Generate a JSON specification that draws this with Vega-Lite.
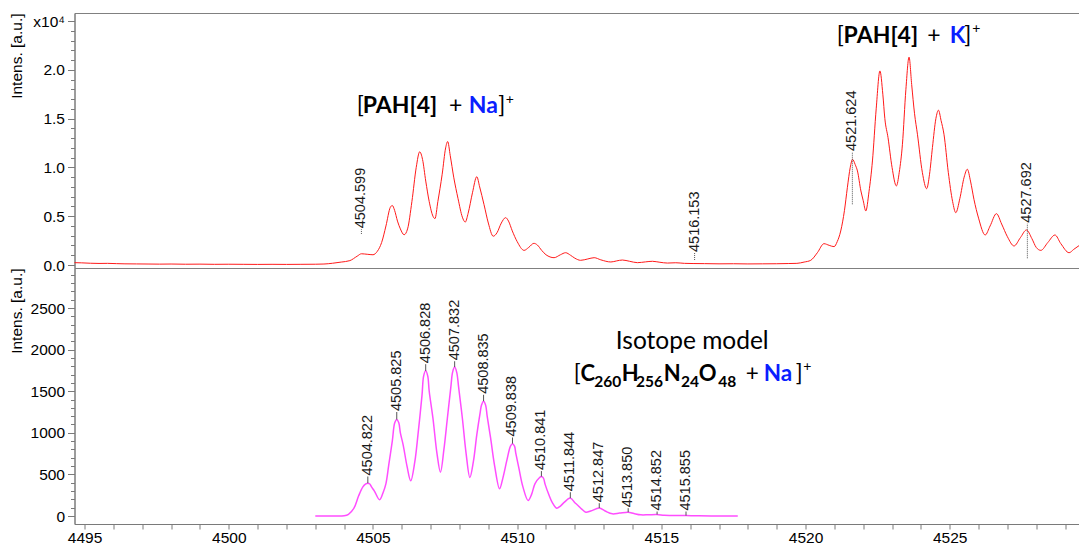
{
  "$schema": "https://vega.github.io/schema/vega-lite/v6.json",
  "autosize": {"type": "pad"},
  "padding": {"left": 8.5, "top": 12, "right": 0, "bottom": 0},
  "background": "white",
  "spacing": 0,
  "bounds": "flush",
  "config": {
    "view": {"stroke": "#808080", "strokeWidth": 1},
    "axis": {
      "domainColor": "#7a7a7a", "tickColor": "#7a7a7a", "labelColor": "#000000",
      "labelFont": "Liberation Sans", "labelFontSize": 15.5, "titleFont": "Liberation Sans",
      "titleFontSize": 15.5, "titleFontWeight": "normal", "titleColor": "#000000", "grid": false,
      "labelOverlap": false, "labelFlush": false
    }
  },
  "datasets": {
    "red": [
      {"mz":4494.65,"i":240},{"mz":4494.9,"i":220},{"mz":4495.2,"i":180},{"mz":4495.5,"i":160},{"mz":4495.8,"i":170},
      {"mz":4496.1,"i":140},{"mz":4496.4,"i":120},{"mz":4496.8,"i":110},{"mz":4497.2,"i":100},{"mz":4497.6,"i":90},
      {"mz":4498.0,"i":100},{"mz":4498.5,"i":80},{"mz":4499.0,"i":90},{"mz":4499.5,"i":70},{"mz":4500.0,"i":80},
      {"mz":4500.5,"i":70},{"mz":4501.0,"i":60},{"mz":4501.5,"i":70},{"mz":4502.0,"i":60},{"mz":4502.5,"i":70},
      {"mz":4503.0,"i":80},{"mz":4503.3,"i":100},{"mz":4503.6,"i":180},{"mz":4503.9,"i":300},{"mz":4504.2,"i":450},
      {"mz":4504.45,"i":900},{"mz":4504.6,"i":1150},{"mz":4504.8,"i":1100},{"mz":4505.0,"i":1050},{"mz":4505.15,"i":1400},
      {"mz":4505.3,"i":2300},{"mz":4505.45,"i":4000},{"mz":4505.6,"i":5900},{"mz":4505.67,"i":6100},{"mz":4505.75,"i":5600},
      {"mz":4505.85,"i":4500},{"mz":4505.95,"i":3700},{"mz":4506.08,"i":3100},{"mz":4506.2,"i":3700},{"mz":4506.35,"i":6500},
      {"mz":4506.5,"i":10000},{"mz":4506.62,"i":11600},{"mz":4506.72,"i":10800},{"mz":4506.83,"i":8600},{"mz":4506.95,"i":6500},
      {"mz":4507.08,"i":5000},{"mz":4507.15,"i":4750},{"mz":4507.25,"i":6500},{"mz":4507.4,"i":9300},{"mz":4507.52,"i":12000},
      {"mz":4507.59,"i":12650},{"mz":4507.68,"i":11200},{"mz":4507.8,"i":9000},{"mz":4507.95,"i":6800},{"mz":4508.1,"i":4900},
      {"mz":4508.2,"i":4400},{"mz":4508.3,"i":5300},{"mz":4508.45,"i":7400},{"mz":4508.6,"i":9050},{"mz":4508.7,"i":8000},
      {"mz":4508.85,"i":6200},{"mz":4509.0,"i":4300},{"mz":4509.17,"i":2950},{"mz":4509.3,"i":3300},{"mz":4509.45,"i":4300},
      {"mz":4509.6,"i":4850},{"mz":4509.7,"i":4500},{"mz":4509.83,"i":3500},{"mz":4510.0,"i":2400},{"mz":4510.24,"i":1500},
      {"mz":4510.4,"i":1800},{"mz":4510.58,"i":2220},{"mz":4510.7,"i":2050},{"mz":4510.85,"i":1500},{"mz":4511.0,"i":1050},
      {"mz":4511.28,"i":750},{"mz":4511.5,"i":1050},{"mz":4511.68,"i":1260},{"mz":4511.85,"i":1000},{"mz":4512.0,"i":700},
      {"mz":4512.2,"i":480},{"mz":4512.45,"i":620},{"mz":4512.67,"i":750},{"mz":4512.9,"i":530},{"mz":4513.25,"i":310},
      {"mz":4513.45,"i":420},{"mz":4513.65,"i":510},{"mz":4513.9,"i":380},{"mz":4514.17,"i":240},{"mz":4514.45,"i":320},
      {"mz":4514.69,"i":380},{"mz":4514.95,"i":280},{"mz":4515.21,"i":200},{"mz":4515.5,"i":230},{"mz":4515.8,"i":170},
      {"mz":4516.1,"i":150},{"mz":4516.5,"i":140},{"mz":4517.0,"i":120},{"mz":4517.5,"i":130},{"mz":4518.0,"i":110},
      {"mz":4518.5,"i":120},{"mz":4519.0,"i":130},{"mz":4519.4,"i":150},{"mz":4519.7,"i":170},{"mz":4519.95,"i":300},
      {"mz":4520.18,"i":480},{"mz":4520.41,"i":1260},{"mz":4520.64,"i":2185},{"mz":4520.82,"i":2015},{"mz":4520.99,"i":1880},
      {"mz":4521.1,"i":2400},{"mz":4521.22,"i":3485},{"mz":4521.35,"i":5600},{"mz":4521.45,"i":7920},{"mz":4521.55,"i":10000},
      {"mz":4521.63,"i":10830},{"mz":4521.72,"i":10300},{"mz":4521.8,"i":9635},{"mz":4521.92,"i":7585},{"mz":4522.0,"i":6600},
      {"mz":4522.09,"i":5535},{"mz":4522.2,"i":7500},{"mz":4522.32,"i":10660},{"mz":4522.45,"i":16000},{"mz":4522.58,"i":19885},
      {"mz":4522.68,"i":17500},{"mz":4522.75,"i":15000},{"mz":4522.86,"i":13050},{"mz":4523.0,"i":10000},{"mz":4523.15,"i":8100},
      {"mz":4523.25,"i":9500},{"mz":4523.36,"i":12370},{"mz":4523.48,"i":18000},{"mz":4523.59,"i":21300},{"mz":4523.68,"i":18500},
      {"mz":4523.78,"i":15500},{"mz":4523.88,"i":13400},{"mz":4524.05,"i":9500},{"mz":4524.2,"i":7820},{"mz":4524.3,"i":9300},
      {"mz":4524.4,"i":12030},{"mz":4524.52,"i":15000},{"mz":4524.61,"i":15860},{"mz":4524.7,"i":14800},{"mz":4524.8,"i":13400},
      {"mz":4524.95,"i":9500},{"mz":4525.1,"i":6500},{"mz":4525.21,"i":5360},{"mz":4525.35,"i":6800},{"mz":4525.5,"i":9000},
      {"mz":4525.61,"i":9810},{"mz":4525.72,"i":8600},{"mz":4525.84,"i":6730},{"mz":4526.0,"i":4800},{"mz":4526.23,"i":3075},
      {"mz":4526.4,"i":4000},{"mz":4526.62,"i":5260},{"mz":4526.8,"i":4200},{"mz":4527.0,"i":2900},{"mz":4527.23,"i":1950},
      {"mz":4527.45,"i":2800},{"mz":4527.66,"i":3590},{"mz":4527.85,"i":2700},{"mz":4528.0,"i":1800},{"mz":4528.16,"i":1500},
      {"mz":4528.4,"i":2300},{"mz":4528.65,"i":3075},{"mz":4528.85,"i":2200},{"mz":4529.14,"i":1260},{"mz":4529.3,"i":1600},
      {"mz":4529.5,"i":2020}
    ],
    "pink": [
      {"mz":4503.0,"i":0},{"mz":4503.6,"i":0},{"mz":4504.0,"i":3},{"mz":4504.15,"i":20},{"mz":4504.34,"i":94},{"mz":4504.5,"i":240},
      {"mz":4504.65,"i":350},{"mz":4504.75,"i":385},{"mz":4504.822,"i":395},{"mz":4504.89,"i":385},{"mz":4504.95,"i":350},{"mz":4505.05,"i":300},{"mz":4505.23,"i":195},
      {"mz":4505.35,"i":280},{"mz":4505.45,"i":390},{"mz":4505.55,"i":620},{"mz":4505.67,"i":900},{"mz":4505.755,"i":1120},{"mz":4505.825,"i":1160},
      {"mz":4505.895,"i":1120},{"mz":4505.95,"i":1000},{"mz":4506.05,"i":850},{"mz":4506.18,"i":600},{"mz":4506.31,"i":423},{"mz":4506.45,"i":650},
      {"mz":4506.56,"i":975},{"mz":4506.7,"i":1450},{"mz":4506.758,"i":1685},{"mz":4506.828,"i":1745},{"mz":4506.898,"i":1685},{"mz":4506.95,"i":1500},{"mz":4507.08,"i":1175},
      {"mz":4507.22,"i":750},{"mz":4507.34,"i":527},{"mz":4507.46,"i":800},{"mz":4507.58,"i":1175},{"mz":4507.7,"i":1550},{"mz":4507.762,"i":1730},
      {"mz":4507.832,"i":1790},{"mz":4507.902,"i":1730},{"mz":4507.97,"i":1550},{"mz":4508.1,"i":1175},{"mz":4508.23,"i":750},{"mz":4508.36,"i":463},
      {"mz":4508.48,"i":650},{"mz":4508.6,"i":975},{"mz":4508.72,"i":1250},{"mz":4508.765,"i":1335},{"mz":4508.835,"i":1380},{"mz":4508.905,"i":1335},{"mz":4508.96,"i":1200},
      {"mz":4509.08,"i":935},{"mz":4509.22,"i":600},{"mz":4509.39,"i":327},{"mz":4509.5,"i":450},{"mz":4509.65,"i":680},{"mz":4509.768,"i":840},
      {"mz":4509.838,"i":870},{"mz":4509.908,"i":840},{"mz":4509.95,"i":760},{"mz":4510.06,"i":575},{"mz":4510.2,"i":350},{"mz":4510.38,"i":186},
      {"mz":4510.5,"i":260},{"mz":4510.62,"i":390},{"mz":4510.771,"i":460},{"mz":4510.841,"i":475},{"mz":4510.911,"i":455},{"mz":4510.97,"i":380},{"mz":4511.1,"i":255},
      {"mz":4511.22,"i":160},{"mz":4511.37,"i":94},{"mz":4511.5,"i":120},{"mz":4511.62,"i":160},{"mz":4511.844,"i":215},
      {"mz":4512.0,"i":160},{"mz":4512.1,"i":130},{"mz":4512.25,"i":80},{"mz":4512.38,"i":46},{"mz":4512.55,"i":60},
      {"mz":4512.847,"i":95},{"mz":4513.05,"i":60},{"mz":4513.3,"i":26},{"mz":4513.55,"i":35},{"mz":4513.85,"i":46},
      {"mz":4514.05,"i":30},{"mz":4514.29,"i":14},{"mz":4514.55,"i":15},{"mz":4514.85,"i":18},{"mz":4515.1,"i":8},
      {"mz":4515.35,"i":6},{"mz":4515.855,"i":5},{"mz":4516.3,"i":2},{"mz":4517.0,"i":0},{"mz":4517.65,"i":0}
    ],
    "toplab": [
      {"t":"4504.599","mz":4504.599,"hi":3660,"lo":3180},
      {"t":"4516.153","mz":4516.153,"hi":1230,"lo":510},
      {"t":"4521.624","mz":4521.624,"hi":11580,"lo":6220},
      {"t":"4527.692","mz":4527.692,"hi":4230,"lo":690}
    ],
    "isolab": [
      {"t":"4504.822","mz":4504.822,"peak":395,"base":475},
      {"t":"4505.825","mz":4505.825,"peak":1160,"base":1250},
      {"t":"4506.828","mz":4506.828,"peak":1745,"base":1825},
      {"t":"4507.832","mz":4507.832,"peak":1790,"base":1860},
      {"t":"4508.835","mz":4508.835,"peak":1380,"base":1457},
      {"t":"4509.838","mz":4509.838,"peak":870,"base":944},
      {"t":"4510.841","mz":4510.841,"peak":475,"base":540},
      {"t":"4511.844","mz":4511.844,"peak":215,"base":286},
      {"t":"4512.847","mz":4512.847,"peak":95,"base":154},
      {"t":"4513.850","mz":4513.850,"peak":46,"base":94},
      {"t":"4514.852","mz":4514.852,"peak":18,"base":54},
      {"t":"4515.855","mz":4515.855,"peak":5,"base":54}
    ]
  },
  "vconcat": [
    {
      "width": 1005,
      "height": 255,
      "resolve": {"axis": {"y": "independent"}},
      "encoding": {
        "x": {"field": "mz", "type": "quantitative", "scale": {"domain": [4494.65, 4529.5], "nice": false, "zero": false}, "axis": null}
      },
      "layer": [
        {
          "data": {"name": "red"},
          "mark": {"type": "line", "color": "#ff1a1a", "strokeWidth": 1, "interpolate": "monotone"},
          "encoding": {
            "y": {"field": "i", "type": "quantitative", "scale": {"domain": [-307, 25820], "nice": false, "zero": false},
              "axis": {"orient": "left", "values": [0, 5000, 10000, 15000, 20000, 25000], "tickSize": 7, "labelPadding": 3,
                "labelExpr": "datum.value == 25000 ? 'x10⁴' : format(datum.value / 10000, '.1f')",
                "title": "Intens. [a.u.]", "titleAnchor": "end", "titleX": -50}}
          }
        },
        {
          "data": {"name": "toplab"},
          "mark": {"type": "rule", "color": "#555555", "strokeWidth": 1, "strokeDash": [1, 1]},
          "encoding": {
            "y": {"field": "lo", "type": "quantitative", "scale": {"domain": [-307, 25820], "nice": false, "zero": false},
              "axis": {"orient": "left", "values": [0,1000,2000,3000,4000,5000,6000,7000,8000,9000,10000,11000,12000,13000,14000,15000,16000,17000,18000,19000,20000,21000,22000,23000,24000,25000],
                "labels": false, "domain": false, "tickSize": 4, "title": null}},
            "y2": {"field": "hi"}
          }
        },
        {
          "data": {"name": "toplab"},
          "mark": {"type": "text", "angle": 270, "align": "left", "baseline": "middle", "font": "Liberation Sans", "fontSize": 14.5, "color": "#1a1a1a", "dx": 1},
          "encoding": {
            "y": {"field": "hi", "type": "quantitative", "scale": {"domain": [-307, 25820], "nice": false, "zero": false}, "axis": null},
            "text": {"field": "t"}
          }
        },
        {
          "data": {"values": [
            {"t":"[","mz":4504.435,"i":15610},{"t":"+","mz":4507.64,"i":15610},{"t":"]","mz":4509.34,"i":15610},
            {"t":"[","mz":4521.08,"i":22790},{"t":"+","mz":4524.22,"i":22790},{"t":"]","mz":4525.5,"i":22790}
          ]},
          "mark": {"type": "text", "align": "left", "baseline": "alphabetic", "font": "Lato", "fontSize": 23, "color": "#000000"},
          "encoding": {
            "y": {"field": "i", "type": "quantitative", "scale": {"domain": [-307, 25820], "nice": false, "zero": false}, "axis": null},
            "text": {"field": "t"}
          }
        },
        {
          "data": {"values": [
            {"t":"PAH[4]","mz":4504.643,"i":15610},{"t":"PAH[4]","mz":4521.32,"i":22790}
          ]},
          "mark": {"type": "text", "align": "left", "baseline": "alphabetic", "font": "Lato", "fontSize": 23, "fontWeight": "bold", "color": "#000000"},
          "encoding": {
            "y": {"field": "i", "type": "quantitative", "scale": {"domain": [-307, 25820], "nice": false, "zero": false}, "axis": null},
            "text": {"field": "t"}
          }
        },
        {
          "data": {"values": [
            {"t":"Na","mz":4508.32,"i":15610},{"t":"K","mz":4525.0,"i":22790}
          ]},
          "mark": {"type": "text", "align": "left", "baseline": "alphabetic", "font": "Lato", "fontSize": 23, "fontWeight": "bold", "color": "#0a1eff"},
          "encoding": {
            "y": {"field": "i", "type": "quantitative", "scale": {"domain": [-307, 25820], "nice": false, "zero": false}, "axis": null},
            "text": {"field": "t"}
          }
        },
        {
          "data": {"values": [
            {"t":"+","mz":4509.6,"i":16530},{"t":"+","mz":4525.78,"i":23815}
          ]},
          "mark": {"type": "text", "align": "left", "baseline": "alphabetic", "font": "Lato", "fontSize": 14, "color": "#000000"},
          "encoding": {
            "y": {"field": "i", "type": "quantitative", "scale": {"domain": [-307, 25820], "nice": false, "zero": false}, "axis": null},
            "text": {"field": "t"}
          }
        }
      ]
    },
    {
      "width": 1005,
      "height": 256,
      "resolve": {"axis": {"y": "independent"}},
      "encoding": {
        "x": {"field": "mz", "type": "quantitative", "scale": {"domain": [4494.65, 4529.5], "nice": false, "zero": false},
          "axis": {"values": [4495,4496,4497,4498,4499,4500,4501,4502,4503,4504,4505,4506,4507,4508,4509,4510,4511,4512,4513,4514,4515,4516,4517,4518,4519,4520,4521,4522,4523,4524,4525,4526,4527,4528,4529],
            "labelExpr": "datum.value % 5 === 0 ? format(datum.value, 'd') : ''", "labelOverlap": false, "tickSize": 5, "labelPadding": 1, "title": null}}
      },
      "layer": [
        {
          "data": {"name": "pink"},
          "mark": {"type": "line", "color": "#ff4dff", "strokeWidth": 1.5, "interpolate": "catmull-rom"},
          "encoding": {
            "y": {"field": "i", "type": "quantitative", "scale": {"domain": [-96, 2981], "nice": false, "zero": false},
              "axis": {"orient": "left", "values": [0, 500, 1000, 1500, 2000, 2500], "format": "d", "tickSize": 7, "labelPadding": 3, "labelOverlap": false,
                "title": "Intens. [a.u.]", "titleAnchor": "end", "titleX": -50}}
          }
        },
        {
          "data": {"name": "isolab"},
          "mark": {"type": "rule", "color": "#555555", "strokeWidth": 1},
          "encoding": {
            "y": {"field": "peak", "type": "quantitative", "scale": {"domain": [-96, 2981], "nice": false, "zero": false},
              "axis": {"orient": "left", "values": [0,100,200,300,400,500,600,700,800,900,1000,1100,1200,1300,1400,1500,1600,1700,1800,1900,2000,2100,2200,2300,2400,2500,2600,2700,2800,2900],
                "labels": false, "domain": false, "tickSize": 4, "title": null}},
            "y2": {"field": "base"}
          }
        },
        {
          "data": {"name": "isolab"},
          "mark": {"type": "text", "angle": 270, "align": "left", "baseline": "middle", "font": "Liberation Sans", "fontSize": 14.5, "color": "#1a1a1a", "dx": 1},
          "encoding": {
            "y": {"field": "base", "type": "quantitative", "scale": {"domain": [-96, 2981], "nice": false, "zero": false}, "axis": null},
            "text": {"field": "t"}
          }
        },
        {
          "data": {"values": [{"t":"Isotope model","mz":4516.07,"i":2004}]},
          "mark": {"type": "text", "align": "center", "baseline": "alphabetic", "font": "Lato", "fontSize": 24.5, "color": "#000000"},
          "encoding": {
            "y": {"field": "i", "type": "quantitative", "scale": {"domain": [-96, 2981], "nice": false, "zero": false}, "axis": null},
            "text": {"field": "t"}
          }
        },
        {
          "data": {"values": [
            {"t":"[","mz":4511.96,"i":1623},{"t":"+","mz":4517.93,"i":1623},{"t":"]","mz":4519.66,"i":1623}
          ]},
          "mark": {"type": "text", "align": "left", "baseline": "alphabetic", "font": "Lato", "fontSize": 22.5, "color": "#000000"},
          "encoding": {
            "y": {"field": "i", "type": "quantitative", "scale": {"domain": [-96, 2981], "nice": false, "zero": false}, "axis": null},
            "text": {"field": "t"}
          }
        },
        {
          "data": {"values": [
            {"t":"C","mz":4512.2,"i":1623},{"t":"H","mz":4513.63,"i":1623},{"t":"N","mz":4515.08,"i":1623},{"t":"O","mz":4516.3,"i":1623}
          ]},
          "mark": {"type": "text", "align": "left", "baseline": "alphabetic", "font": "Lato", "fontSize": 22, "fontWeight": "bold", "color": "#000000"},
          "encoding": {
            "y": {"field": "i", "type": "quantitative", "scale": {"domain": [-96, 2981], "nice": false, "zero": false}, "axis": null},
            "text": {"field": "t"}
          }
        },
        {
          "data": {"values": [
            {"t":"260","mz":4512.67,"i":1551},{"t":"256","mz":4514.12,"i":1551},{"t":"24","mz":4515.68,"i":1551},{"t":"48","mz":4516.97,"i":1551}
          ]},
          "mark": {"type": "text", "align": "left", "baseline": "alphabetic", "font": "Lato", "fontSize": 15.5, "fontWeight": "bold", "color": "#000000"},
          "encoding": {
            "y": {"field": "i", "type": "quantitative", "scale": {"domain": [-96, 2981], "nice": false, "zero": false}, "axis": null},
            "text": {"field": "t"}
          }
        },
        {
          "data": {"values": [{"t":"Na","mz":4518.55,"i":1623}]},
          "mark": {"type": "text", "align": "left", "baseline": "alphabetic", "font": "Lato", "fontSize": 22.5, "fontWeight": "bold", "color": "#0a1eff"},
          "encoding": {
            "y": {"field": "i", "type": "quantitative", "scale": {"domain": [-96, 2981], "nice": false, "zero": false}, "axis": null},
            "text": {"field": "t"}
          }
        },
        {
          "data": {"values": [{"t":"+","mz":4519.92,"i":1743}]},
          "mark": {"type": "text", "align": "left", "baseline": "alphabetic", "font": "Lato", "fontSize": 14, "color": "#000000"},
          "encoding": {
            "y": {"field": "i", "type": "quantitative", "scale": {"domain": [-96, 2981], "nice": false, "zero": false}, "axis": null},
            "text": {"field": "t"}
          }
        }
      ]
    }
  ]
}
